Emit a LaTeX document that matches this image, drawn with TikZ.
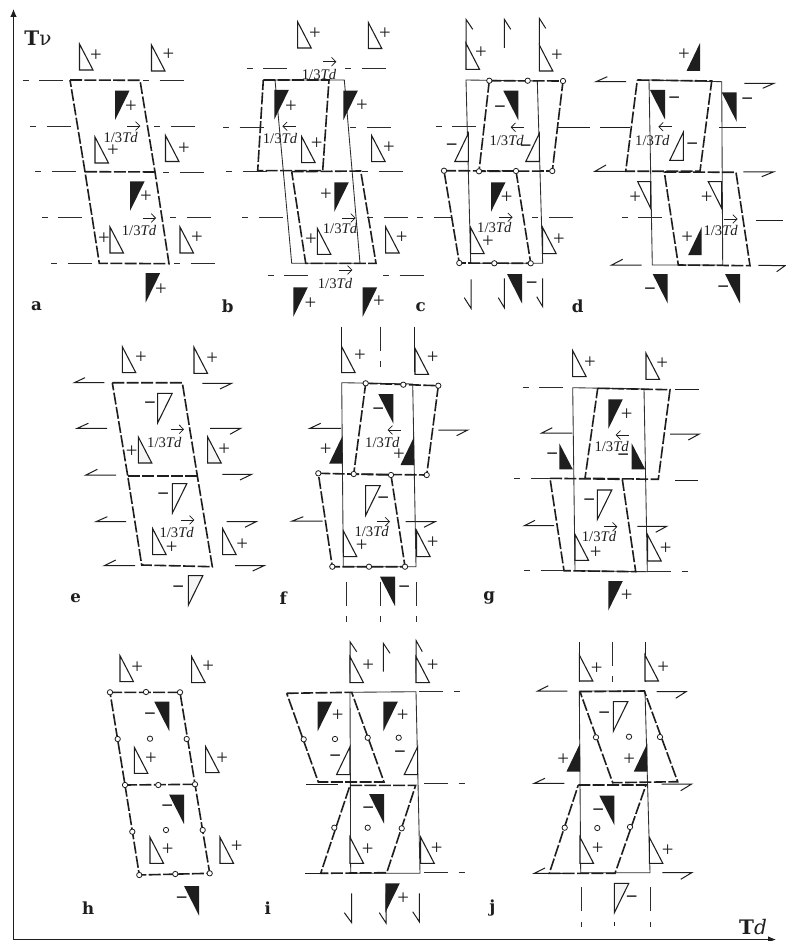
\documentclass[tikz,border=0pt]{standalone}
\usepackage{fontspec}
\usepackage{xcolor}
\setmainfont{Liberation Serif}
\newfontfamily\panelfont{DejaVu Serif}
\usetikzlibrary{arrows.meta}
\definecolor{ink}{RGB}{30, 30, 30}
\definecolor{thinline}{RGB}{45, 45, 45}
\newcounter{markno}
\tikzset{
  wtri/.style={draw=ink,fill=white,line width=0.8pt,line join=miter},
  gtri/.style={draw=ink,fill=black!4,line width=0.8pt,line join=miter},
  btri/.style={fill=ink},
  frame/.style={thinline,line width=0.65pt},
  dashbox/.style={ink,line width=1.2pt,dash pattern=on 9pt off 1.8pt},
  axial/.style={thinline,line width=0.7pt,dash pattern=on 4.5pt off 8pt on 18pt off 500pt},
  laxial/.style={thinline,line width=0.7pt,dash pattern=on 18pt off 8pt on 4.5pt off 500pt},
  half/.style={ink,line width=0.75pt},
  hinge/.style={draw=ink,fill=white,line width=0.6pt},
  signmark/.style={inner sep=0pt,ink,font=\fontsize{15.5}{15.5}\selectfont},
  tdmark/.style={inner sep=0pt,ink,font=\fontsize{11}{11}\selectfont},
  tdarrow/.style={-{Straight Barb[length=3.2pt,width=6.5pt]},ink,line width=0.55pt},
  panel/.style={inner sep=0pt,ink,font=\panelfont\bfseries\fontsize{12.5}{12.5}\selectfont}
}
\newcommand{\tLL}[3]{\path[#1] (#2,#3) -- ++(0,26) -- ++(13.5,0) -- cycle;}
\newcommand{\tUL}[3]{\path[#1] (#2,#3) -- ++(14.5,0) -- ++(-14.5,29.5) -- cycle;}
\newcommand{\tUR}[3]{\path[#1] (#2,#3) -- ++(-15,0) -- ++(15,29.5) -- cycle;}
\newcommand{\tLR}[3]{\path[#1] (#2,#3) -- ++(0,28) -- ++(-13.5,0) -- cycle;}
\newcommand{\pl}[2]{\stepcounter{markno}\node[signmark] (mark\themarkno) at (#1,#2) {+};}
\newcommand{\mn}[2]{\stepcounter{markno}\node[signmark] (mark\themarkno) at (#1,#2) {\bfseries −};}
\newcommand{\tdR}[4]{\stepcounter{markno}\node[tdmark] (td\themarkno) at (#1,#2) {1/3\textit{Td}};\draw[tdarrow] (#3,#4) -- ++(13.3,0);}
\newcommand{\tdL}[4]{\stepcounter{markno}\node[tdmark] (td\themarkno) at (#1,#2) {1/3\textit{Td}};\draw[tdarrow] (#3,#4) -- ++(-13.3,0);}
\begin{document}
\begin{tikzpicture}[x=0.75pt,y=-0.75pt]
\useasboundingbox (0,0) rectangle (785,941);
\fill[white] (0,0) rectangle (785,941);
\draw[ink,line width=0.8pt,-{Latex[length=6pt,width=5pt]}] (13.5,939.5) -- (13.5,9);
\draw[ink,line width=0.8pt,-{Latex[length=6pt,width=5pt]}] (13.5,939.5) -- (776,939.5);
\node[panel,font=\panelfont\fontsize{15}{15}\selectfont] (tvlabel) at (38,38) {\textbf{T}ν};
\node[panel,font=\panelfont\fontsize{15}{15}\selectfont] (tdlabel) at (753,927) {\textbf{T}\textit{d}};
\foreach \lx/\ly/\ln in {36.5/306/a,227.7/306/b,420.7/306.7/c,577.7/306/d,75.7/598/e,283.3/598/f,489.3/598/g,88.3/908.3/h,267.7/908.3/i,492.3/908.3/j}
  \node[panel] (panel\ln) at (\lx,\ly) {\ln};
\foreach \ax/\ay in {22.5/80,143/80,30/126,154/126,35/171.5,163/172.5,41.7/217.5,170/217.5,51/263,174/263}
  \draw[axial] (\ax,\ay) -- ++(42,0);
\draw[dashbox] (70,80) -- (140,80.3) -- (155,172) -- (169,263.7) -- (99.3,263.3) -- (85,171.7) -- cycle;
\draw[dashbox] (85,171.7) -- (155,172);
\tLL{wtri}{79.5}{44}\pl{96}{56}
\tLL{wtri}{151.5}{45}\pl{168.5}{55}
\tUL{btri}{115}{90.7}\pl{131}{107}
\tLL{wtri}{95}{137}\pl{113}{150.5}
\tLL{wtri}{165.5}{135.5}\pl{184}{149}
\tUL{btri}{130}{181.5}\pl{146}{197}
\tLL{wtri}{110}{227}\pl{104}{239}
\tLL{wtri}{180}{227}\pl{197}{238}
\tUL{btri}{145.7}{273}\pl{161}{290}
\tdR{120.7}{137.7}{127}{126}
\tdR{139}{230}{142.7}{218}
\foreach \ax/\ay in {246.7/68,345/68,223/127,350/127,226/171,362/171,242/217.5,367/217.5,267.7/275.5,383/275.5}
  \draw[axial] (\ax,\ay) -- ++(42,0);
\draw[frame] (275,80) -- (344.3,80) -- (360,263.3) -- (291.7,263.3) -- cycle;
\draw[dashbox] (263.3,80) -- (329,80) -- (322.7,170.7) -- (257.7,170.7) -- cycle;
\draw[dashbox] (291.7,171.7) -- (360.7,171) -- (376,263.3) -- (305.7,263.3) -- cycle;
\tLL{wtri}{297.7}{22}\pl{315}{34}
\tLL{wtri}{368.3}{22.5}\pl{385}{34}
\tUL{btri}{274.3}{90}\pl{291}{107}
\tUL{btri}{343.3}{90.7}\pl{362}{106}
\tLL{wtri}{301.7}{136.7}\pl{316.7}{144}
\tLL{wtri}{371.7}{135.7}\pl{389}{148}
\tUL{btri}{334.3}{182.3}\pl{326}{195}
\tLL{wtri}{317.3}{228.3}\pl{311}{240}
\tLL{wtri}{385.7}{227}\pl{401.7}{237.3}
\tUL{btri}{293.3}{287.3}\pl{310.5}{304}
\tUL{btri}{362.7}{287.3}\pl{379}{302}
\tdR{319}{74.5}{323}{61.7}
\tdL{280}{138.3}{295.7}{126.3}
\tdR{340}{228.3}{342.3}{218}
\tdR{335}{283.3}{339}{270}
\draw[half] (466,44) -- (466,19.3) -- (472.7,29.3);
\draw[half] (504.3,48) -- (504.3,19.3) -- (510.7,29.3);
\draw[half] (539.3,45) -- (539.3,18.3) -- (545.7,28.3);
\draw[half] (471,279.3) -- (471,308.3) -- (464.3,297.7);
\draw[half] (504.3,278.3) -- (504.3,307.7) -- (498.3,297.7);
\draw[half] (542.7,278.3) -- (542.7,306.7) -- (536.7,296.7);
\draw[axial] (417,217.3) -- (452,217.3);
\draw[axial] (532.3,217.3) -- ++(40.4,0);
\draw[axial] (435.7,126) -- ++(41,0);
\draw[half] (558.3,127.7) -- (590,127.7);
\draw[frame] (466,80) -- (537.3,81) -- (542.7,263.3) -- (470.7,263.3) -- cycle;
\draw[dashbox] (489.3,80.7) -- (563,81) -- (552.3,171) -- (479,171.3) -- cycle;
\draw[dashbox] (444,170.7) -- (516,171) -- (530.7,263.3) -- (459.3,263) -- cycle;
\foreach \cx/\cy in {489.3/80.7,527.7/80.7,563/81,479/171.3,516/171,552.3/171,444/170.7,459.3/263,494.3/263.3,530.7/263.3}
  \filldraw[hinge] (\cx,\cy) circle (2pt);
\tLL{wtri}{466}{43.3}\pl{481}{52.5}
\tLL{wtri}{539.3}{45}\pl{557}{56}
\tUR{btri}{518.3}{90.7}\mn{500}{109.3}
\tLR{wtri}{468.3}{133.5}\mn{451.7}{147.3}
\tLR{wtri}{539.3}{133.5}\mn{525.7}{149}
\tUL{btri}{491}{182.3}\pl{506.7}{197.3}
\tLL{wtri}{470.7}{227.7}\pl{488}{242}
\tLL{wtri}{542.7}{227.7}\pl{559}{239.7}
\tUR{btri}{522}{274}\mn{531.7}{285.7}
\tdL{506.7}{140}{524}{127.3}
\tdR{494.3}{227.7}{499.3}{217.3}
\draw[half] (626,81.7) -- (596,81.7) -- (607.3,76.7);
\draw[half] (744.3,83.3) -- (774,83.3) -- (762.7,88.3);
\draw[half] (600,127.7) -- (630,127.7);
\draw[half] (719,127.3) -- (745.7,127.3);
\draw[half] (625,171.3) -- (595,171.3) -- (606,165);
\draw[half] (743.3,172) -- (773.3,172) -- (761.7,176.7);
\draw[axial] (621.7,217.3) -- ++(40.6,0);
\draw[half] (756,220.4) -- (783.3,220.4);
\draw[half] (641.7,265) -- (611.7,265) -- (622.7,259.3);
\draw[half] (758.3,265.3) -- (785,265.7) -- (776.7,271.7);
\draw[frame] (649,80) -- (721.7,81.7) -- (722.7,265) -- (652.3,265) -- cycle;
\draw[dashbox] (637.3,80) -- (711.7,81) -- (700,171.3) -- (625.7,171.3) -- cycle;
\draw[dashbox] (664.3,172) -- (736,172.3) -- (750,265.7) -- (678.3,265) -- cycle;
\tLR{btri}{700}{43}\pl{684}{55}
\tUR{btri}{665}{90}\mn{674.3}{100.7}
\tUR{btri}{736.7}{92.3}\mn{747.3}{101.7}
\tLR{wtri}{683.3}{132.3}\mn{692.3}{146.7}
\path[wtri] (650.7,181.7) -- (637.7,181.7) -- (650.7,208.3) -- cycle;\pl{635.3}{197.7}
\path[wtri] (721.7,181.7) -- (708.3,181.7) -- (721.7,208.3) -- cycle;\pl{706.7}{197.7}
\tLR{btri}{701.7}{227}\pl{687.3}{237.7}
\tUR{btri}{667.7}{274}\mn{650}{292}
\tUR{btri}{740}{274}\mn{723.3}{290}
\tdL{652.3}{140}{671.7}{126.7}
\tdR{720.7}{230.7}{724.3}{219}
\draw[half] (104.3,382.7) -- (74.3,382.7) -- (85,377.7);
\draw[half] (202.3,383.3) -- (231.7,383.3) -- (220,389);
\draw[half] (107,428.3) -- (77.3,428.3) -- (88.3,423.3);
\draw[half] (210,428.3) -- (240.7,428.3) -- (230,434.3);
\draw[half] (116,475) -- (86,475) -- (97.3,469.3);
\draw[half] (222.3,474.3) -- (251.7,474.3) -- (240,480);
\draw[half] (126,521.7) -- (96,521.7) -- (107.3,516.7);
\draw[half] (226.7,521.7) -- (256,521.7) -- (245,527.3);
\draw[half] (135,565.7) -- (104.3,565.7) -- (115.7,560);
\draw[half] (235,565.7) -- (264,565.7) -- (252.7,571);
\draw[dashbox] (112.3,382.7) -- (182.3,382.7) -- (197.3,475.7) -- (212.3,566.7) -- (141.7,565) -- (127.7,475.7) -- cycle;
\draw[dashbox] (127.7,475.7) -- (197.3,475.7);
\tLL{wtri}{122.3}{346.7}\pl{141}{357.7}
\tLL{wtri}{194}{347.3}\pl{212.3}{358.3}
\tUL{wtri}{157.7}{393.3}\mn{150}{405.7}
\tLL{gtri}{138.3}{437}\pl{131.7}{451.7}
\tLL{gtri}{207.7}{437}\pl{224.3}{450}
\tUL{wtri}{172.3}{483.7}\mn{163.3}{496.7}
\tLL{wtri}{152.7}{528.7}\pl{171.7}{547.3}
\tLL{wtri}{222.7}{528.7}\pl{242.3}{545}
\tUL{gtri}{188.3}{575.7}\mn{178.3}{589.3}
\tdR{164.3}{442.3}{170.7}{429.3}
\tdR{176.7}{532.3}{181}{520}
\draw[half] (341.7,326.7) -- (341.7,371);
\draw[half] (414.2,326.7) -- (414.2,372);
\draw[laxial] (380,326.7) -- (380,367);
\draw[laxial] (346.7,581.7) -- (346.7,622);
\draw[laxial] (380.7,581.7) -- (380.7,622);
\draw[laxial] (416.7,581.7) -- (416.7,622);
\draw[half] (341,428.3) -- (310,428.3) -- (320.7,423.3);
\draw[half] (438.3,430) -- (467.7,430) -- (456.7,435.7);
\draw[half] (322.7,521) -- (292.3,521) -- (303.3,516.7);
\draw[half] (405.7,521.7) -- (435,521.7) -- (424,527.3);
\draw[frame] (341.7,382.7) -- (412.7,384) -- (416,566.7) -- (343.3,566.7) -- cycle;
\draw[dashbox] (365.7,383.3) -- (438.3,385.7) -- (426.7,475) -- (353.7,474) -- cycle;
\draw[dashbox] (318.3,473.3) -- (391,475) -- (405,566.7) -- (332.3,566.7) -- cycle;
\foreach \cx/\cy in {365.7/383.3,403.3/384.7,438.3/385.7,353.7/474,391/475,426.7/475,318.3/473.3,332.3/566.7,369/566.7,405/566.7}
  \filldraw[hinge] (\cx,\cy) circle (2pt);
\tLL{wtri}{341.7}{346.7}\pl{360}{356}
\tLL{wtri}{415}{348.3}\pl{432.7}{357.7}
\tUR{btri}{393.3}{394}\mn{378.3}{411.7}
\tLR{btri}{342.7}{435.5}\pl{325.7}{450}
\tLR{btri}{414}{437}\pl{399}{455}
\tUL{wtri}{365.7}{485.7}\mn{383.3}{501}
\tLL{wtri}{343.3}{530.7}\pl{361.7}{546}
\tLL{wtri}{416.7}{530.7}\pl{432.7}{542.7}
\tUR{btri}{395}{576.7}\mn{404.3}{590}
\tdL{382.3}{442.3}{401}{430}
\tdR{371.7}{531.7}{376.7}{521.7}
\draw[axial] (522.7,387.7) -- ++(40.6,0);
\draw[half] (675,389.7) -- (699.3,389.7);
\draw[half] (572.3,433) -- (541.7,433) -- (552.3,427.7);
\draw[half] (670,434) -- (699.3,434) -- (688.3,440);
\draw[axial] (514.3,478.3) -- ++(36,0);
\draw[half] (675,480.7) -- (698.3,480.7);
\draw[half] (554,525.7) -- (524.3,525.7) -- (535,520.3);
\draw[half] (637.3,526.3) -- (666.7,526.3) -- (655.7,532.3);
\draw[axial] (524.3,570.7) -- ++(40,0);
\draw[laxial] (647,571.3) -- (695.5,571.3);
\draw[frame] (572.7,387.7) -- (644,389) -- (647.3,571.7) -- (575,570.7) -- cycle;
\draw[dashbox] (597.7,388.3) -- (670,389.7) -- (658.3,479.3) -- (585,478.3) -- cycle;
\draw[dashbox] (550,478.3) -- (622.3,479.3) -- (635.7,571.7) -- (564,570.7) -- cycle;
\tLL{wtri}{572.7}{350.7}\pl{590}{362.3}
\tLL{wtri}{646}{353.3}\pl{662.3}{363.3}
\tUL{btri}{608.3}{399.3}\pl{626.7}{414.3}
\tLL{btri}{559.3}{443.3}\mn{552.3}{456.7}
\tLL{btri}{631.7}{443.3}\mn{623.3}{457.7}
\tUL{wtri}{597.3}{490}\mn{589.3}{502.7}
\tLL{wtri}{575}{534.3}\pl{595.7}{552.3}
\tLL{wtri}{647.7}{535}\pl{665.7}{549}
\tUL{btri}{608.3}{581}\pl{626.7}{596}
\tdL{611.7}{446.7}{629}{435}
\tdR{599}{536.7}{604}{526.7}
\draw[dashbox] (110,692.3) -- (180,692.3) -- (195,784.3) -- (209.7,873.3) -- (139.3,875) -- (125,785) -- cycle;
\draw[dashbox] (125,785) -- (195,784.3);
\foreach \cx/\cy in {110/692.3,146/692,180/692.3,117.7/739,186.7/739,150/738.7,125/785,158.3/785,195/784.3,132.3/831.7,202.7/830,166/830,139.3/875,175.3/874,209.7/873.3}
  \filldraw[hinge] (\cx,\cy) circle (2pt);
\tLL{wtri}{120}{655.7}\pl{137.3}{667.3}
\tLL{wtri}{191.7}{656.7}\pl{208.3}{666.7}
\tUR{btri}{169.3}{701.7}\mn{150}{716.7}
\tLL{wtri}{134.3}{747.3}\pl{151}{759}
\tLL{wtri}{205.7}{746.7}\pl{222.3}{758.3}
\tUR{btri}{184}{794.5}\mn{167.3}{809}
\tLL{wtri}{150}{837.3}\pl{167.7}{849.3}
\tLL{wtri}{220}{837.3}\pl{236.7}{846.7}
\tUR{btri}{199}{886}\mn{181.7}{901}
\draw[half] (350,673.3) -- (350,641.7) -- (356.7,651.7);
\draw[half] (383.3,671.7) -- (383.3,643.3) -- (390,653.3);
\draw[half] (416.2,673.3) -- (416.2,640.7) -- (422.3,651.7);
\draw[half] (351.7,893.3) -- (351.7,922.7) -- (344.3,912.7);
\draw[half] (386,893.3) -- (386,923) -- (379.3,912.7);
\draw[half] (419.3,893.3) -- (419.3,921.7) -- (412.7,911.7);
\draw[laxial] (419.3,691.7) -- (460,691.7);
\draw[half] (306,784.7) -- (338.3,784.7);
\draw[laxial] (424,783.3) -- (465,783.3);
\draw[half] (305,873.3) -- (328,873.3);
\draw[laxial] (424,872.3) -- (465,872.3);
\draw[frame] (350,692.3) -- (416,691.7) -- (420,873.3) -- (350.7,873.3) -- cycle;
\draw[dashbox] (286.7,693.3) -- (351.7,692.3) -- (384,782) -- (318.3,782) -- cycle;
\draw[dashbox] (350,785.3) -- (415.7,785.3) -- (386.7,872.7) -- (320.7,873.3) -- cycle;
\foreach \cx/\cy in {303.7/739.3,367.7/737.7,335/739,398.7/737.7,334.3/827.7,401.7/828.3,367.7/827.7}
  \filldraw[hinge] (\cx,\cy) circle (2pt);
\tLL{wtri}{350}{656.7}\pl{368.3}{666}
\tLL{wtri}{416}{656.7}\pl{432.7}{666}
\tUL{btri}{317.7}{701.7}\pl{337.7}{716}
\tUL{btri}{383.3}{701.7}\pl{402.7}{716}
\tLR{wtri}{350}{746.7}\mn{335.3}{759}
\tLR{wtri}{417.7}{746.7}\mn{400}{754.3}
\tUR{btri}{384}{794}\mn{368.3}{810.3}
\tLL{wtri}{350}{837.3}\pl{367.7}{850}
\tLL{wtri}{420.7}{837.3}\pl{436.7}{848.3}
\tUL{btri}{385.3}{883.3}\pl{403.3}{898.3}
\draw[half] (579.3,641.7) -- (579.3,681.7);
\draw[half] (645.2,641.7) -- (645.2,681.7);
\draw[laxial] (612.3,641.7) -- (612.3,682);
\draw[laxial] (581,887.3) -- (581,927.3);
\draw[half] (614.3,921.7) -- (614.3,925.7);
\draw[laxial] (650,887.3) -- (650,927.3);
\draw[half] (567.3,691) -- (537.7,691) -- (548.3,685.7);
\draw[half] (656.7,691.7) -- (686,691.7) -- (675.7,698.3);
\draw[half] (564.3,783.3) -- (534.3,783.3) -- (545,778.3);
\draw[half] (661.7,784) -- (691.7,784) -- (680.7,790.7);
\draw[half] (563,873.3) -- (534.3,873.3) -- (545,868);
\draw[half] (662.3,872.7) -- (691.7,872.7) -- (680.7,879.3);
\draw[frame] (579.3,691) -- (645,691) -- (650,872.7) -- (580.7,872.7) -- cycle;
\draw[dashbox] (580,691.7) -- (644.3,691) -- (677.7,781.7) -- (612.7,782.7) -- cycle;
\draw[dashbox] (578.3,785) -- (646,785) -- (615,873.3) -- (549.3,873.3) -- cycle;
\foreach \cx/\cy in {596/737.3,660/737,629/736.7,564.7/827.7,630/827,597.3/828}
  \filldraw[hinge] (\cx,\cy) circle (2pt);
\tLL{wtri}{579.3}{655}\pl{596.7}{668.3}
\tLL{wtri}{645}{655}\pl{663.3}{667.3}
\tUL{wtri}{613.3}{701.7}\mn{604.3}{715.7}
\tLR{btri}{580}{743.5}\pl{563.3}{760}
\tLR{btri}{647.3}{743.5}\pl{629.3}{759.3}
\tUR{btri}{614.3}{795.5}\mn{598.3}{813}
\tLL{wtri}{580}{837.3}\pl{597.7}{849}
\tLL{wtri}{649.3}{837.3}\pl{667.7}{850.7}
\tUL{gtri}{614.3}{883.3}\mn{631.7}{899.3}
\end{tikzpicture}
\end{document}
